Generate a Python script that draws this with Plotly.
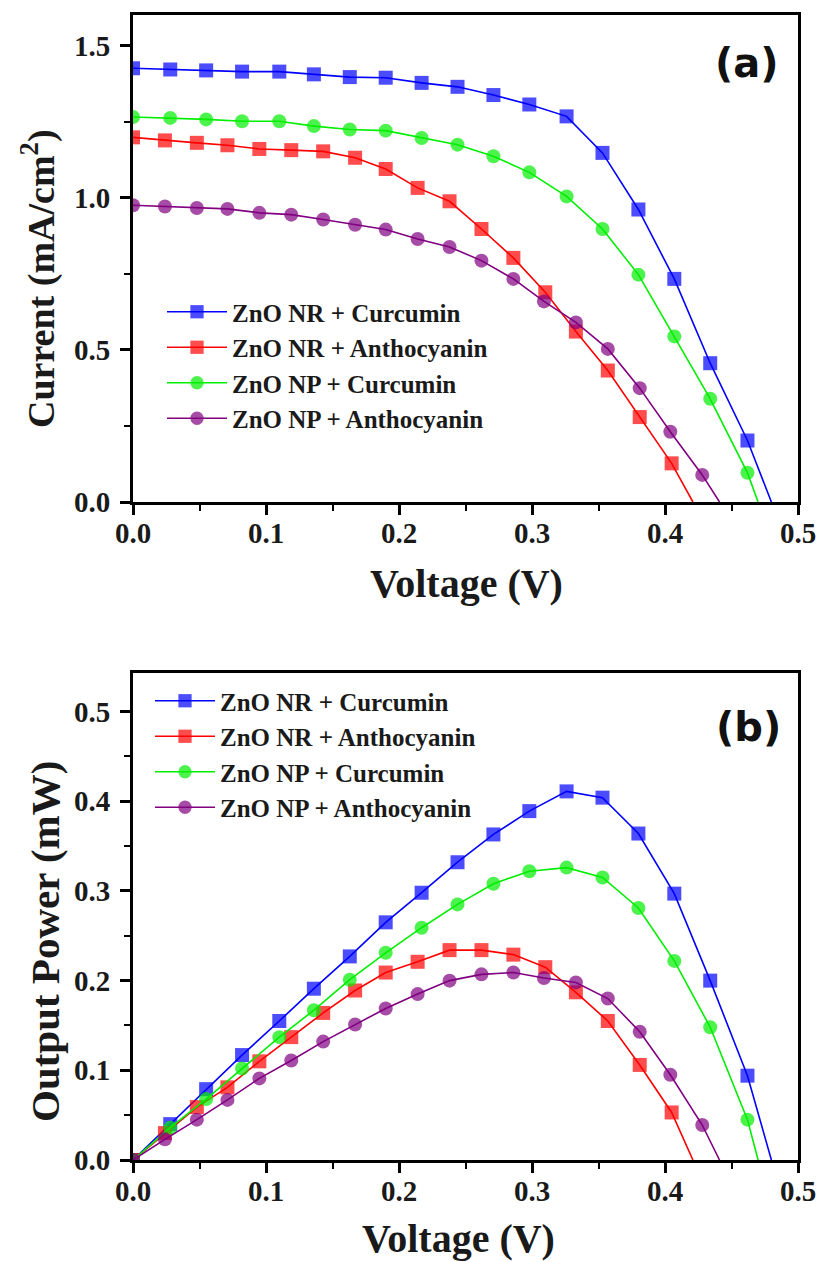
import plotly.graph_objects as go

# ---------------- data ----------------
series_names = ["ZnO NR + Curcumin", "ZnO NR + Anthocyanin",
                "ZnO NP + Curcumin", "ZnO NP + Anthocyanin"]
series_colors = ["#0000FF", "#FF0000", "#00EE00", "#800080"]
series_symbols = ["square", "square", "circle", "circle"]

v_nr_cur = [0, 0.028, 0.055, 0.082, 0.110, 0.136, 0.163, 0.190, 0.217, 0.244,
            0.271, 0.298, 0.326, 0.353, 0.380, 0.407, 0.434, 0.462, 0.480]
v_nr_ant = [0, 0.024, 0.048, 0.071, 0.095, 0.119, 0.143, 0.167, 0.190, 0.214,
            0.238, 0.262, 0.286, 0.310, 0.333, 0.357, 0.381, 0.405, 0.421]
v_np_cur = [0, 0.028, 0.055, 0.082, 0.110, 0.136, 0.163, 0.190, 0.217, 0.244,
            0.271, 0.298, 0.326, 0.353, 0.380, 0.407, 0.434, 0.462, 0.470]
v_np_ant = [0, 0.024, 0.048, 0.071, 0.095, 0.119, 0.143, 0.167, 0.190, 0.214,
            0.238, 0.262, 0.286, 0.309, 0.333, 0.357, 0.381, 0.404, 0.428, 0.441]

# current density (mA/cm^2), panel (a)
i_nr_cur = [1.425, 1.421, 1.418, 1.414, 1.414, 1.405, 1.396, 1.394, 1.377, 1.364,
            1.337, 1.306, 1.267, 1.147, 0.961, 0.733, 0.456, 0.202, 0.0]
i_nr_ant = [1.198, 1.188, 1.180, 1.172, 1.160, 1.156, 1.152, 1.131, 1.094, 1.032,
            0.988, 0.897, 0.802, 0.689, 0.560, 0.432, 0.279, 0.127, 0.0]
i_np_cur = [1.265, 1.262, 1.257, 1.251, 1.251, 1.235, 1.224, 1.220, 1.196, 1.174,
            1.136, 1.083, 1.004, 0.897, 0.747, 0.544, 0.339, 0.096, 0.0]
i_np_ant = [0.975, 0.971, 0.966, 0.963, 0.950, 0.944, 0.928, 0.911, 0.895, 0.864,
            0.838, 0.793, 0.733, 0.659, 0.590, 0.503, 0.374, 0.231, 0.089, 0.0]

# output power (mW), panel (b)
p_nr_cur = [0, 0.040, 0.079, 0.117, 0.155, 0.191, 0.227, 0.265, 0.298, 0.332,
            0.363, 0.389, 0.411, 0.404, 0.364, 0.297, 0.200, 0.094, 0.0]
p_nr_ant = [0, 0.030, 0.059, 0.081, 0.110, 0.137, 0.164, 0.189, 0.209, 0.221,
            0.234, 0.234, 0.229, 0.215, 0.187, 0.155, 0.106, 0.053, 0.0]
p_np_cur = [0, 0.036, 0.068, 0.102, 0.137, 0.167, 0.201, 0.231, 0.259, 0.285,
            0.308, 0.322, 0.326, 0.315, 0.281, 0.222, 0.148, 0.045, 0.0]
p_np_ant = [0, 0.023, 0.045, 0.067, 0.091, 0.111, 0.132, 0.151, 0.169, 0.185,
            0.200, 0.207, 0.209, 0.203, 0.198, 0.180, 0.143, 0.095, 0.039, 0.0]

voltages = [v_nr_cur, v_nr_ant, v_np_cur, v_np_ant]
currents = [i_nr_cur, i_nr_ant, i_np_cur, i_np_ant]
powers = [p_nr_cur, p_nr_ant, p_np_cur, p_np_ant]

x_ticks = [0.0, 0.1, 0.2, 0.3, 0.4, 0.5]
y_ticks_a = [0.0, 0.5, 1.0, 1.5]
y_ticks_b = [0.0, 0.1, 0.2, 0.3, 0.4, 0.5]

# ---------------- figure ----------------
W, H = 825, 1262
SERIF = "Liberation Serif"
TXT = "#1a1a1a"

def px_x(p):
    return p / W

def px_y(p):
    return 1 - p / H

fig = go.Figure()

for k in range(4):
    n = len(voltages[k])
    msize = [14] * (n - 1) + [0]
    common = dict(
        mode="lines+markers",
        name=series_names[k],
        line=dict(color=series_colors[k], width=1.6),
        marker=dict(symbol=series_symbols[k], color=series_colors[k],
                    size=msize, line=dict(width=0)),
    )
    fig.add_trace(go.Scatter(x=voltages[k], y=currents[k], xaxis="x", yaxis="y",
                             legend="legend", **common))
    fig.add_trace(go.Scatter(x=voltages[k], y=powers[k], xaxis="x2", yaxis="y2",
                             legend="legend2", **common))

axis_common = dict(
    showline=True, linecolor="black", linewidth=3, mirror=True,
    ticks="outside", ticklen=10, tickwidth=2.5, tickcolor="black",
    showgrid=False, zeroline=False, automargin=False,
    tickfont=dict(family=SERIF, size=29, color=TXT, weight="bold"),
)
minor = dict(ticks="outside", ticklen=6, tickwidth=2, tickcolor="black", showgrid=False)

legend_font = dict(family=SERIF, size=25, color=TXT, weight="bold")

fig.update_layout(
    template="none",
    width=W, height=H,
    margin=dict(l=0, r=0, t=0, b=0, autoexpand=False),
    paper_bgcolor="white", plot_bgcolor="white",
    showlegend=True,
    xaxis=dict(domain=[px_x(133), px_x(798)], anchor="y", range=[0, 0.5],
               tickvals=x_ticks, ticktext=["%.1f" % t for t in x_ticks],
               minor=dict(dtick=0.05, **minor), ticklabelstandoff=-7, **axis_common),
    yaxis=dict(domain=[px_y(502), px_y(15)], anchor="x", range=[0, 1.6],
               tickvals=y_ticks_a, ticktext=["%.1f" % t for t in y_ticks_a],
               minor=dict(dtick=0.25, **minor), ticklabelstandoff=4, **axis_common),
    xaxis2=dict(domain=[px_x(133), px_x(798)], anchor="y2", range=[0, 0.5],
                tickvals=x_ticks, ticktext=["%.1f" % t for t in x_ticks],
                minor=dict(dtick=0.05, **minor), ticklabelstandoff=-7, **axis_common),
    yaxis2=dict(domain=[px_y(1160), px_y(673)], anchor="x2", range=[0, 0.543],
                tickvals=y_ticks_b, ticktext=["%.1f" % t for t in y_ticks_b],
                minor=dict(dtick=0.05, **minor), ticklabelstandoff=4, **axis_common),
    legend=dict(x=px_x(162), y=px_y(289), xanchor="left", yanchor="top",
                bgcolor="rgba(255,255,255,0)", borderwidth=0,
                font=legend_font, itemwidth=60, tracegroupgap=0),
    legend2=dict(x=px_x(150), y=px_y(678), xanchor="left", yanchor="top",
                 bgcolor="rgba(255,255,255,0)", borderwidth=0,
                 font=legend_font, itemwidth=60, tracegroupgap=0),
)

annotations = [
    dict(text="<b>Voltage (V)</b>", x=px_x(466), y=px_y(584), xref="paper", yref="paper",
         xanchor="center", yanchor="middle", showarrow=False,
         font=dict(family=SERIF, size=40, color=TXT)),
    dict(text="<b>Voltage (V)</b>", x=px_x(458), y=px_y(1238), xref="paper", yref="paper",
         xanchor="center", yanchor="middle", showarrow=False,
         font=dict(family=SERIF, size=40, color=TXT)),
    dict(text="<b>Current (mA/cm<sup>2</sup>)</b>", x=px_x(39), y=px_y(279),
         xref="paper", yref="paper", xanchor="center", yanchor="middle",
         textangle=-90, showarrow=False,
         font=dict(family=SERIF, size=38, color=TXT)),
    dict(text="<b>Output Power (mW)</b>", x=px_x(45), y=px_y(942),
         xref="paper", yref="paper", xanchor="center", yanchor="middle",
         textangle=-90, showarrow=False,
         font=dict(family=SERIF, size=41, color=TXT)),
    dict(text="<b>(a)</b>", x=px_x(747), y=px_y(63), xref="paper", yref="paper",
         xanchor="center", yanchor="middle", showarrow=False,
         font=dict(family="DejaVu Sans", size=40, color="#111111")),
    dict(text="<b>(b)</b>", x=px_x(748), y=px_y(727), xref="paper", yref="paper",
         xanchor="center", yanchor="middle", showarrow=False,
         font=dict(family="DejaVu Sans", size=40, color="#111111")),
]
fig.update_layout(annotations=annotations)

fig.write_html("out.html")
